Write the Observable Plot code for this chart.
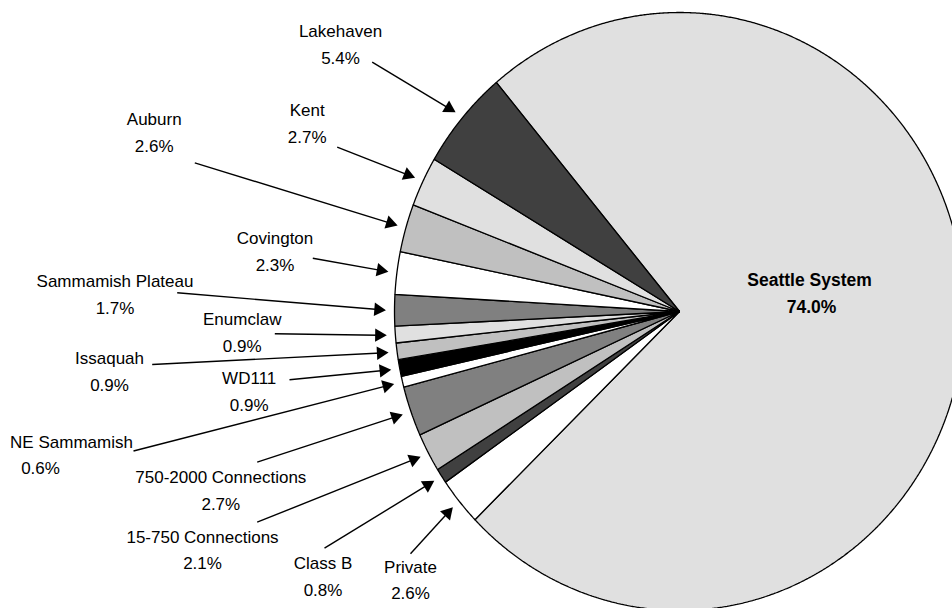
<!DOCTYPE html>
<html>
<head>
<meta charset="utf-8">
<script src="https://cdn.jsdelivr.net/npm/d3@7"></script>
<script src="https://cdn.jsdelivr.net/npm/@observablehq/plot@0.6"></script>
<style>
  html, body { margin: 0; padding: 0; background: #fff; }
  #chart { width: 952px; height: 608px; overflow: hidden; }
</style>
</head>
<body>
<div id="chart"></div>
<script>
// ---- data (slice order: clockwise from the top-left edge of Seattle System) ----
const names = ["Seattle System", "Private", "Class B", "15-750 Connections", "750-2000 Connections",
  "NE Sammamish", "WD111", "Issaquah", "Enumclaw", "Sammamish Plateau", "Covington", "Auburn", "Kent", "Lakehaven"];
const shares = [74.0, 2.6, 0.8, 2.1, 2.7, 0.6, 0.9, 0.9, 0.9, 1.7, 2.3, 2.6, 2.7, 5.4];
const pctLabels = ["74.0%", "2.6%", "0.8%", "2.1%", "2.7%", "0.6%", "0.9%", "0.9%", "0.9%", "1.7%", "2.3%", "2.6%", "2.7%", "5.4%"];

// ---- styles ----
const fills = ["#e0e0e0", "#ffffff", "#404040", "#c0c0c0", "#808080", "#ffffff", "#000000",
  "#c0c0c0", "#e0e0e0", "#808080", "#ffffff", "#c0c0c0", "#e0e0e0", "#404040"];

// ---- layout (pixels) ----
const cx = 679, cy = 311, rx = 285, ry = 299;
const startDeg = -40;
const tipRadius = 1.03;
const lineGap = 26.7;
// label centres: name line x, percent line x, block centre y
const nameX = [809, 410, 322.5, 202, 220.3, 71, 248.7, 109, 241.7, 114.5, 274.5, 153.7, 306.7, 340];
const pctX  = [811, 410, 322.5, 202, 220.3, 40, 248.7, 109, 241.7, 114.5, 274.5, 153.7, 306.7, 340];
const labelY = [293.5, 580, 576.7, 550, 490.5, 455, 391.2, 371.2, 332.7, 294.5, 251.2, 132.5, 123.3, 44.5];
// leader-line tails (null = no leader)
const tailX = [null, 410, 324, 256.7, 256.7, 133, 289, 151.7, 274.3, 176.7, 312.3, 194.3, 336.7, 371.7];
const tailY = [null, 553.3, 547.7, 521.7, 461.7, 450.5, 379.3, 364, 333.3, 292.3, 257.7, 162.3, 146.7, 61.7];

// ---- geometry from the data ----
const arcs = d3.pie().sort(null).value(d => d)
  .startAngle(startDeg * Math.PI / 180)
  .endAngle((startDeg + 360) * Math.PI / 180)(shares);

const pt = (a, k = 1) => [cx + rx * k * Math.sin(a), cy - ry * k * Math.cos(a)];

const slicePts = [];
arcs.forEach((a, i) => {
  slicePts.push({name: names[i], fill: fills[i], x: cx, y: cy});
  const n = Math.max(2, Math.ceil((a.endAngle - a.startAngle) / (0.25 * Math.PI / 180)));
  for (let j = 0; j <= n; j++) {
    const t = a.startAngle + (a.endAngle - a.startAngle) * j / n;
    const [x, y] = pt(t);
    slicePts.push({name: names[i], fill: fills[i], x, y});
  }
});

const headR = 5;
const headOff = 2 * Math.sqrt(Math.PI * headR * headR / (Math.sqrt(3) * 3));
const arrows = [];
arcs.forEach((a, i) => {
  if (tailX[i] == null) return;
  const mid = (a.startAngle + a.endAngle) / 2;
  const [tx, ty] = pt(mid, tipRadius);
  const dx = tx - tailX[i], dy = ty - tailY[i];
  const len = Math.hypot(dx, dy);
  const ux = dx / len, uy = dy / len;
  arrows.push({
    x1: tailX[i], y1: tailY[i],
    x2: tx - ux * headOff, y2: ty - uy * headOff,
    hx: tx - ux * headOff, hy: ty - uy * headOff,
    rot: Math.atan2(dx, -dy) * 180 / Math.PI
  });
});

const lines = [];
names.forEach((n, i) => {
  lines.push({x: nameX[i], y: labelY[i] - lineGap / 2, text: n, bold: i === 0});
  lines.push({x: pctX[i], y: labelY[i] + lineGap / 2, text: pctLabels[i], bold: i === 0});
});

const chart = Plot.plot({
  width: 952,
  height: 608,
  margin: 0,
  x: {type: "identity", axis: null},
  y: {type: "identity", axis: null},
  color: {type: "identity"},
  style: {fontFamily: "'Liberation Sans', Arial, sans-serif", background: "#fff"},
  marks: [
    Plot.line(slicePts, {x: "x", y: "y", z: "name", fill: "fill", stroke: "#000", strokeWidth: 1.3,
      curve: "linear-closed", strokeLinejoin: "miter", strokeLinecap: "butt"}),
    Plot.link(arrows, {x1: "x1", y1: "y1", x2: "x2", y2: "y2", stroke: "#000", strokeWidth: 1.4}),
    Plot.dot(arrows, {x: "hx", y: "hy", symbol: "triangle", r: headR, fill: "#000", stroke: "none", rotate: "rot"}),
    Plot.text(lines.filter(d => !d.bold), {x: "x", y: "y", text: "text", fontSize: 17, fill: "#000"}),
    Plot.text(lines.filter(d => d.bold), {x: "x", y: "y", text: "text", fontSize: 17.5, fontWeight: "bold",
      fill: "#000", letterSpacing: "0.6px"})
  ]
});
document.getElementById("chart").appendChild(chart);
</script>
</body>
</html>
